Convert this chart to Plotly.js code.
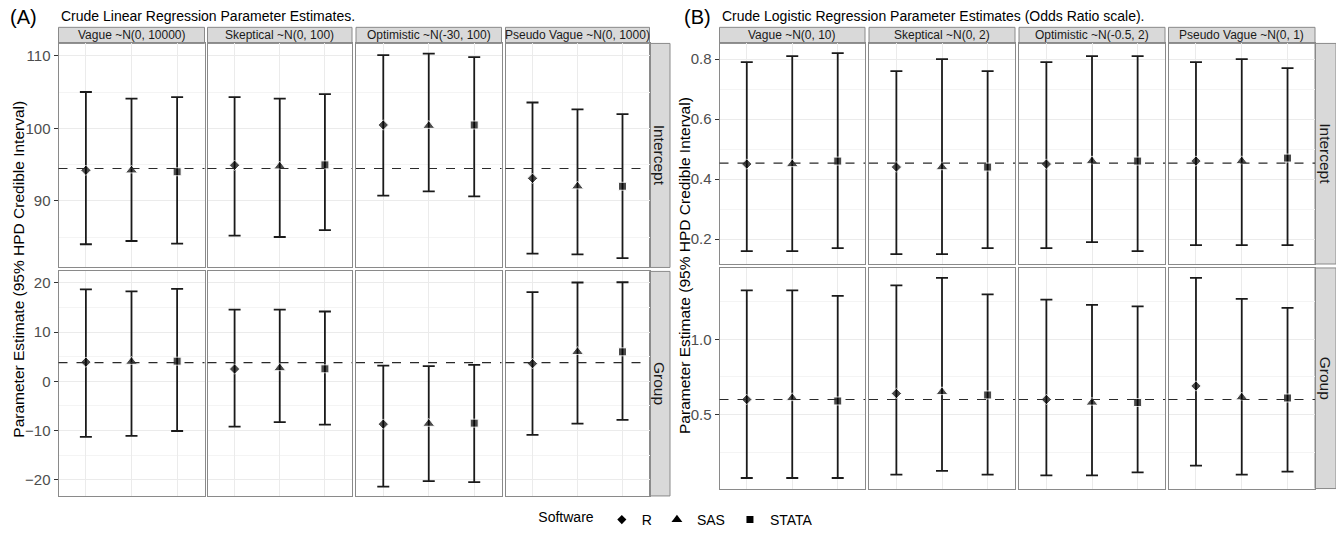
<!DOCTYPE html>
<html>
<head>
<meta charset="utf-8">
<script src="https://cdn.plot.ly/plotly-3.0.1.min.js"></script>
<style>html,body{margin:0;padding:0;background:#fff;}#chart{width:1336px;height:536px;}</style>
</head>
<body>
<div id="chart"></div>
<script>
// ---------------- DATA ----------------
const software = ['R', 'SAS', 'STATA'];
const parameters = ['Intercept', 'Group'];
const priorsLinear = ['Vague ~N(0, 10000)', 'Skeptical ~N(0, 100)', 'Optimistic ~N(-30, 100)', 'Pseudo Vague ~N(0, 1000)'];
const priorsLogistic = ['Vague ~N(0, 10)', 'Skeptical ~N(0, 2)', 'Optimistic ~N(-0.5, 2)', 'Pseudo Vague ~N(0, 1)'];

// Linear regression (per prior: R, SAS, STATA)
const linInterceptEst  = [[94.2, 94.2, 94.0], [94.9, 94.75, 94.95], [100.45, 100.35, 100.45], [93.1, 92.0, 92.0]];
const linInterceptLow  = [[84.0, 84.45, 84.1], [85.2, 85.0, 85.95], [90.7, 91.3, 90.6], [82.7, 82.6, 82.1]];
const linInterceptHigh = [[105.0, 104.1, 104.3], [104.3, 104.1, 104.7], [110.1, 110.3, 109.8], [103.55, 102.6, 101.95]];
const linGroupEst  = [[3.9, 4.0, 4.1], [2.5, 2.7, 2.55], [-8.7, -8.6, -8.5], [3.6, 6.0, 6.0]];
const linGroupLow  = [[-11.3, -11.1, -10.1], [-9.2, -8.3, -8.8], [-21.4, -20.3, -20.5], [-10.9, -8.6, -7.85]];
const linGroupHigh = [[18.7, 18.3, 18.8], [14.6, 14.6, 14.2], [3.2, 3.1, 3.35], [18.15, 20.1, 20.15]];
const linReference = [94.45, 3.82];

// Logistic regression, odds ratio scale (per prior: R, SAS, STATA)
const logInterceptEst  = [[0.45, 0.45, 0.46], [0.44, 0.44, 0.44], [0.45, 0.46, 0.46], [0.46, 0.46, 0.47]];
const logInterceptLow  = [[0.16, 0.16, 0.17], [0.15, 0.15, 0.17], [0.17, 0.19, 0.16], [0.18, 0.18, 0.18]];
const logInterceptHigh = [[0.79, 0.81, 0.82], [0.76, 0.80, 0.76], [0.79, 0.81, 0.81], [0.79, 0.80, 0.77]];
const logGroupEst  = [[0.60, 0.61, 0.59], [0.64, 0.65, 0.63], [0.60, 0.58, 0.58], [0.69, 0.615, 0.61]];
const logGroupLow  = [[0.077, 0.077, 0.077], [0.10, 0.125, 0.10], [0.094, 0.094, 0.114], [0.16, 0.10, 0.12]];
const logGroupHigh = [[1.327, 1.327, 1.29], [1.36, 1.41, 1.30], [1.265, 1.23, 1.22], [1.41, 1.27, 1.21]];
const logReference = [0.453, 0.60];

// ---------------- LAYOUT HELPERS ----------------
const W = 1336, H = 536;
const fx = p => p / W;
const fy = p => 1 - p / H;
const FONT = 'Liberation Sans, Arial, Helvetica, sans-serif';
const BORDER = '#8a8a8a';
const symbols = ['diamond', 'triangle-up', 'square'];
const sizes = [8, 10.5, 8];

const panels = [
  {
    label: '(A)', labelX: 8, title: 'Crude Linear Regression Parameter Estimates.',
    cols: [[58.5, 204.5], [207.5, 352], [356, 501.5], [505.5, 649.5]],
    rows: [[44, 271], [275, 502.5]],
    strip: [649.5, 670],
    priors: priorsLinear,
    series: [[linInterceptEst, linInterceptLow, linInterceptHigh], [linGroupEst, linGroupLow, linGroupHigh]],
    refs: linReference,
    ranges: [[80.8, 111.7], [-23.3, 22.35]],
    dticks: [[10, 5], [10, 5]],
    fmt: '', ytitleX: 19
  },
  {
    label: '(B)', labelX: 682, title: 'Crude Logistic Regression Parameter Estimates (Odds Ratio scale).',
    cols: [[719.5, 865], [869, 1015], [1019, 1165], [1168.5, 1315]],
    rows: [[44, 267.5], [271.5, 495]],
    strip: [1315, 1336],
    priors: priorsLogistic,
    series: [[logInterceptEst, logInterceptLow, logInterceptHigh], [logGroupEst, logGroupLow, logGroupHigh]],
    refs: logReference,
    ranges: [[0.117, 0.852], [0.007, 1.476]],
    dticks: [[0.2, 0.1], [0.5, 0.25]],
    fmt: '.1f', ytitleX: 685
  }
];

const data = [];
const layout = {
  width: W, height: H,
  margin: {l: 0, r: 0, t: 0, b: 0},
  paper_bgcolor: '#ffffff', plot_bgcolor: '#ffffff',
  font: {family: FONT, color: '#1a1a1a'},
  showlegend: true,
  legend: {
    orientation: 'h', x: 0.507, xanchor: 'center', y: fy(527), yanchor: 'middle',
    title: {text: 'Software', side: 'left', font: {size: 14, color: '#000'}},
    font: {size: 14, color: '#000', family: FONT},
    itemwidth: 30, tracegroupgap: 0, bgcolor: 'rgba(0,0,0,0)'
  },
  shapes: [], annotations: []
};

let n = 0;
panels.forEach((P, pi) => {
  layout.annotations.push({text: P.label, xref: 'paper', yref: 'paper', x: fx(P.labelX), y: fy(17),
    xanchor: 'left', yanchor: 'middle', showarrow: false, font: {size: 20, color: '#000', family: FONT}});
  layout.annotations.push({text: P.title, xref: 'paper', yref: 'paper', x: fx(P.cols[0][0]), y: fy(16.5),
    xanchor: 'left', yanchor: 'middle', showarrow: false, font: {size: 14, color: '#000', family: FONT}});
  const yc = (P.rows[0][0] + P.rows[1][1]) / 2;
  layout.annotations.push({text: 'Parameter Estimate (95% HPD Credible Interval)', xref: 'paper', yref: 'paper',
    x: fx(P.ytitleX), y: fy(yc), xanchor: 'center', yanchor: 'middle', textangle: -90, showarrow: false,
    font: {size: 15.5, color: '#000', family: FONT}});
  P.cols.forEach((c, ci) => {
    layout.shapes.push({type: 'rect', xref: 'paper', yref: 'paper', x0: fx(c[0]), x1: fx(c[1]), y0: fy(44), y1: fy(27.7),
      fillcolor: '#d9d9d9', line: {color: BORDER, width: 1}, layer: 'below'});
    layout.annotations.push({text: P.priors[ci], xref: 'paper', yref: 'paper', x: fx((c[0] + c[1]) / 2), y: fy(35.8),
      xanchor: 'center', yanchor: 'middle', showarrow: false, font: {size: 12, color: '#1a1a1a', family: FONT}});
  });
  P.rows.forEach((r, ri) => {
    layout.shapes.push({type: 'rect', xref: 'paper', yref: 'paper', x0: fx(P.strip[0]), x1: fx(P.strip[1]), y0: fy(r[1]), y1: fy(r[0]),
      fillcolor: '#d9d9d9', line: {color: BORDER, width: 1}, layer: 'below'});
    layout.annotations.push({text: parameters[ri], xref: 'paper', yref: 'paper', x: fx((P.strip[0] + P.strip[1]) / 2), y: fy((r[0] + r[1]) / 2),
      xanchor: 'center', yanchor: 'middle', textangle: 90, showarrow: false, font: {size: 15.5, color: '#1a1a1a', family: FONT}});
    const [est, low, high] = P.series[ri];
    P.cols.forEach((c, ci) => {
      n += 1;
      const xa = n === 1 ? 'xaxis' : 'xaxis' + n;
      const ya = n === 1 ? 'yaxis' : 'yaxis' + n;
      const xr = n === 1 ? 'x' : 'x' + n;
      const yr = n === 1 ? 'y' : 'y' + n;
      layout[xa] = {
        domain: [fx(c[0]), fx(c[1])], anchor: yr, type: 'category', range: [-0.6, 2.6],
        categoryarray: software, categoryorder: 'array',
        showticklabels: false, ticks: '', showgrid: true, gridcolor: '#ebebeb', gridwidth: 1,
        zeroline: false, showline: true, mirror: true, linecolor: BORDER, linewidth: 1, fixedrange: true
      };
      layout[ya] = {
        domain: [fy(r[1]), fy(r[0])], anchor: xr, range: P.ranges[ri], dtick: P.dticks[ri][0], tick0: 0,
        tickformat: P.fmt,
        minor: {dtick: P.dticks[ri][1], tick0: 0, showgrid: true, gridcolor: '#f4f4f4', gridwidth: 1, ticks: ''},
        showticklabels: ci === 0, ticks: ci === 0 ? 'outside' : '', ticklen: 4, tickcolor: '#333333', tickwidth: 1,
        tickfont: {size: 15, color: '#4d4d4d', family: FONT},
        showgrid: true, gridcolor: '#ebebeb', gridwidth: 1,
        zeroline: false, showline: true, mirror: true, linecolor: BORDER, linewidth: 1, fixedrange: true
      };
      const e = est[ci], lo = low[ci], hi = high[ci];
      data.push({
        type: 'scatter', mode: 'markers', xaxis: xr, yaxis: yr, showlegend: false, hoverinfo: 'skip',
        x: software, y: e,
        marker: {symbol: symbols, size: sizes, color: '#000000'},
        error_y: {type: 'data', symmetric: false,
          array: hi.map((v, k) => v - e[k]), arrayminus: e.map((v, k) => v - lo[k]),
          width: 6, thickness: 1.8, color: '#1a1a1a'}
      });
      layout.shapes.push({type: 'line', xref: xr + ' domain', yref: yr, x0: 0, x1: 1, y0: P.refs[ri], y1: P.refs[ri],
        line: {color: '#2a2a2a', width: 1.2, dash: 'dash'}, layer: 'above'});
    });
  });
});

software.forEach((s, k) => {
  data.push({type: 'scatter', mode: 'markers', x: [null], y: [null], xaxis: 'x', yaxis: 'y', name: s,
    showlegend: true, marker: {symbol: symbols[k], size: sizes[k] - 1, color: '#000000'}});
});

Plotly.newPlot('chart', data, layout, {staticPlot: true, displayModeBar: false});
</script>
</body>
</html>
